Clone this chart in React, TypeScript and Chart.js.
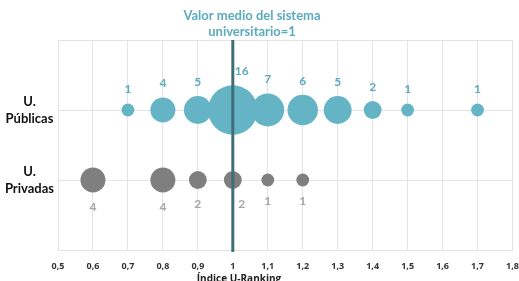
import React, { useEffect, useRef } from "react";
import { Chart, registerables } from "chart.js";

Chart.register(...registerables);

// ---- data ----
const publicX = [0.7, 0.8, 0.9, 1.0, 1.1, 1.2, 1.3, 1.4, 1.5, 1.7];
const publicCount = [1, 4, 5, 16, 7, 6, 5, 2, 1, 1];
const privateX = [0.6, 0.8, 0.9, 1.0, 1.1, 1.2];
const privateCount = [4, 4, 2, 2, 1, 1];
const groupLabels = ["U. Privadas", "U. Públicas"]; // y = 1, y = 2
const titleLines = ["Valor medio del sistema", "universitario=1"];
const xTitle = "Índice U-Ranking";
const referenceValue = 1;

const TEAL = "#64b4c6";
const GREY = "#7f7f7f";
const TEAL_TEXT = "#5aabbd";
const GREY_TEXT = "#a6a6a6";
const LINE = "#3e6f77";
const FONT = "Lato, 'Open Sans', sans-serif";
const TICK_FONT = "'Open Sans', 'Noto Sans', sans-serif";

const radiusFor = (n: number) => 6.1 * Math.sqrt(n) + 0.3;

const labelsPlugin = {
  id: "customLabels",
  afterDatasetsDraw(chart: any) {
    const { ctx, chartArea, scales } = chart;
    const xs = scales.x;
    // reference line
    const lx = xs.getPixelForValue(referenceValue);
    ctx.save();
    ctx.strokeStyle = LINE;
    ctx.lineWidth = 3;
    ctx.beginPath();
    ctx.moveTo(lx, chartArea.top);
    ctx.lineTo(lx, chartArea.bottom + 2);
    ctx.stroke();

    // data labels
    ctx.font = `bold 12px ${FONT}`;
    ctx.textAlign = "center";
    ctx.textBaseline = "middle";
    chart.data.datasets.forEach((ds: any, di: number) => {
      const meta = chart.getDatasetMeta(di);
      meta.data.forEach((el: any, i: number) => {
        const raw = ds.data[i];
        const r = radiusFor(raw.n);
        const shift = raw.x === referenceValue ? 9 : 0;
        if (di === 0) {
          ctx.fillStyle = TEAL_TEXT;
          ctx.fillText(String(raw.n), el.x + shift, el.y - r - 14);
        } else {
          ctx.fillStyle = GREY_TEXT;
          ctx.fillText(String(raw.n), el.x + shift, el.y + r + 15);
        }
      });
    });

    // title
    ctx.fillStyle = TEAL_TEXT;
    ctx.font = `bold 13px ${FONT}`;
    ctx.fillText(titleLines[0], 252, 16);
    ctx.fillText(titleLines[1], 252, 32);

    // x axis title
    ctx.fillStyle = "#222";
    ctx.font = `bold 10px ${TICK_FONT}`;
    ctx.fillText(xTitle, 239, 279);
    ctx.restore();
  },
};

export default function App() {
  const ref = useRef<HTMLCanvasElement>(null);
  useEffect(() => {
    if (!ref.current) return;
    const chart = new Chart(ref.current, {
      type: "bubble",
      data: {
        datasets: [
          {
            label: "U. Públicas",
            data: publicX.map((x, i) => ({ x, y: 2, r: radiusFor(publicCount[i]), n: publicCount[i] })) as any,
            backgroundColor: TEAL,
            borderWidth: 0,
          },
          {
            label: "U. Privadas",
            data: privateX.map((x, i) => ({ x, y: 1, r: radiusFor(privateCount[i]), n: privateCount[i] })) as any,
            backgroundColor: GREY,
            borderWidth: 0,
          },
        ],
      },
      options: {
        responsive: true,
        maintainAspectRatio: false,
        animation: false,
        layout: { autoPadding: false, padding: { top: 40, right: 6.5, left: 0, bottom: 0 } },
        plugins: { legend: { display: false }, tooltip: { enabled: false } },
        scales: {
          x: {
            type: "linear",
            min: 0.5,
            max: 1.8,
            grid: { color: "#e3e3e3", drawTicks: false },
            border: { color: "#e3e3e3" },
            ticks: {
              stepSize: 0.1,
              autoSkip: false,
              maxRotation: 0,
              padding: 11,
              color: "#333",
              font: { family: TICK_FONT, size: 9, weight: "bold" },
              callback: (v: any) => {
                const n = Math.round(Number(v) * 10) / 10;
                return n === 1 ? "1" : n.toFixed(1).replace(".", ",");
              },
            },
            afterFit: (s: any) => {
              s.height = 31;
              s.paddingLeft = 0;
              s.paddingRight = 0;
            },
          },
          y: {
            type: "linear",
            min: 0,
            max: 3,
            grid: { color: "#e3e3e3", drawTicks: false },
            border: { color: "#e3e3e3" },
            ticks: {
              stepSize: 1,
              padding: 4,
              crossAlign: "center",
              color: "#111",
              font: { family: FONT, size: 13, weight: "bold", lineHeight: 1.3 },
              callback: (v: any) => {
                const idx = Math.round(Number(v)) - 1;
                if (idx === 0 || idx === 1) return groupLabels[idx].split(" ");
                return "";
              },
            },
            afterFit: (s: any) => {
              s.width = 58;
              s.paddingTop = 0;
              s.paddingBottom = 0;
            },
          },
        },
      },
      plugins: [labelsPlugin],
    });
    return () => chart.destroy();
  }, []);
  return (
    <div style={{ position: "fixed", left: 0, top: 0, width: 519, height: 281 }}>
      <canvas ref={ref} />
    </div>
  );
}
